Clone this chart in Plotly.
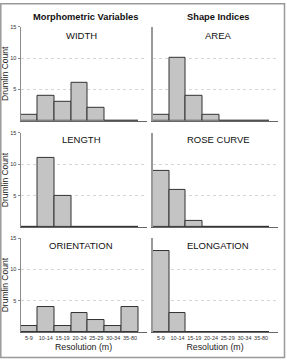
import plotly.graph_objects as go

W, H = 287, 361

categories = ["5-9", "10-14", "15-19", "20-24", "25-29", "30-34", "35-80"]
width_counts = [1, 4, 3, 6, 2, 0, 0]
area_counts = [1, 10, 4, 1, 0, 0, 0]
length_counts = [0, 11, 5, 0, 0, 0, 0]
rose_counts = [9, 6, 1, 0, 0, 0, 0]
orientation_counts = [1, 4, 1, 3, 2, 1, 4]
elongation_counts = [13, 3, 0, 0, 0, 0, 0]

panels = [
    ("WIDTH", width_counts, 0, 0),
    ("AREA", area_counts, 0, 1),
    ("LENGTH", length_counts, 1, 0),
    ("ROSE CURVE", rose_counts, 1, 1),
    ("ORIENTATION", orientation_counts, 2, 0),
    ("ELONGATION", elongation_counts, 2, 1),
]

FONT = "Arial, Liberation Sans, sans-serif"

def px(x):
    return x / W

def py(y):
    return 1 - y / H

col_dom = [(px(20.5), px(146.5)), (px(152.5), px(277.5))]
row_px = [(24, 118.7), (131, 226), (237, 332)]
row_dom = [(py(b), py(t)) for t, b in row_px]

fig = go.Figure()
layout = {}
annotations = []

for i, (name, vals, r, c) in enumerate(panels):
    k = i + 1
    xa = "xaxis" if k == 1 else f"xaxis{k}"
    ya = "yaxis" if k == 1 else f"yaxis{k}"
    xr = "x" if k == 1 else f"x{k}"
    yr = "y" if k == 1 else f"y{k}"
    fig.add_trace(go.Bar(
        x=categories, y=vals, xaxis=xr, yaxis=yr,
        marker=dict(color="#c4c4c4", line=dict(color="#333333", width=1)),
        showlegend=False,
    ))
    layout[xa] = dict(
        domain=list(col_dom[c]), anchor=yr, type="category",
        categoryorder="array", categoryarray=categories,
        range=[-0.5, 6.98], showgrid=False, zeroline=False,
        showline=True, linecolor="#666666", linewidth=1,
        showticklabels=(r == 2), ticks="",
        tickfont=dict(family=FONT, size=5.5, color="#333333"),
        fixedrange=True,
    )
    if r == 2:
        layout[xa]["title"] = dict(text="Resolution (m)", standoff=3,
                                   font=dict(family=FONT, size=8.8, color="#222222"))
    layout[ya] = dict(
        domain=list(row_dom[r]), anchor=xr, range=[0, 15],
        tickvals=[5, 10, 15], showgrid=True, gridcolor="#d6d6d6",
        griddash="dot", gridwidth=1, zeroline=False,
        showline=True, linecolor="#8a8a8a" if c == 0 else "#999999",
        linewidth=1 if c == 0 else 1.6,
        showticklabels=(c == 0), ticks="outside" if c == 0 else "",
        ticklen=2, tickcolor="#888888",
        tickfont=dict(family=FONT, size=5.5, color="#333333"),
        fixedrange=True,
    )
    if c == 0:
        layout[ya]["title"] = dict(text="Drumlin Count", standoff=3,
                                   font=dict(family=FONT, size=8.5, color="#222222"))
    cx = 81 if c == 0 else 218
    cy = [33, 138, 245][r]
    annotations.append(dict(
        text=name, x=px(cx), y=py(cy), xref="paper", yref="paper",
        xanchor="center", yanchor="middle", showarrow=False,
        font=dict(family=FONT, size=9.5, color="#111111"),
    ))

annotations.append(dict(text="<b>Morphometric Variables</b>", x=px(85), y=py(14),
                        xref="paper", yref="paper", xanchor="center", yanchor="middle",
                        showarrow=False, font=dict(family=FONT, size=9.3, color="#111111")))
annotations.append(dict(text="<b>Shape Indices</b>", x=px(219), y=py(14),
                        xref="paper", yref="paper", xanchor="center", yanchor="middle",
                        showarrow=False, font=dict(family=FONT, size=9.3, color="#111111")))

shapes = [dict(type="rect", xref="paper", yref="paper",
               x0=px(0.8), x1=px(284.5), y0=py(357.5), y1=py(0.8),
               line=dict(color="#999999", width=1.5), fillcolor="rgba(0,0,0,0)")]

fig.update_layout(
    width=W, height=H, margin=dict(l=0, r=0, t=0, b=0),
    paper_bgcolor="white", plot_bgcolor="white",
    bargap=0, annotations=annotations, shapes=shapes,
    font=dict(family=FONT),
    **layout,
)

fig.write_html("out.html", config={"displayModeBar": False})
